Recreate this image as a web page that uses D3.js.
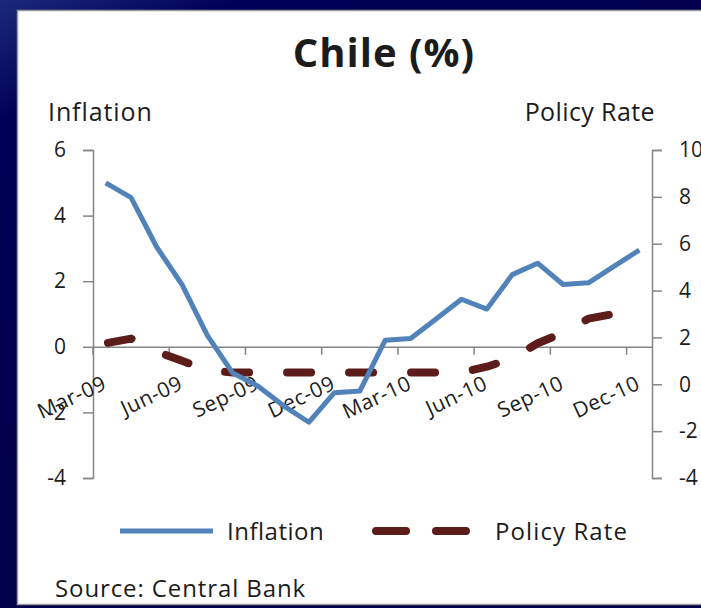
<!DOCTYPE html>
<html>
<head>
<meta charset="utf-8">
<script src="https://cdn.jsdelivr.net/npm/d3@7"></script>
<style>
  html, body { margin: 0; padding: 0; background: #000050; }
  svg { display: block; }
  text { font-family: "Open Sans", "Noto Sans", sans-serif; fill: #1c1c1c; }
</style>
</head>
<body>
<svg id="chart" width="701" height="608"></svg>
<script>
// Monthly observations, Mar-09 .. Dec-10
const months = ["Mar-09","Apr-09","May-09","Jun-09","Jul-09","Aug-09","Sep-09","Oct-09","Nov-09","Dec-09",
                "Jan-10","Feb-10","Mar-10","Apr-10","May-10","Jun-10","Jul-10","Aug-10","Sep-10","Oct-10","Nov-10","Dec-10"];
// Annual CPI inflation (%), left axis
const inflation = [5.0, 4.55, 3.05, 1.9, 0.35, -0.8, -1.2, -1.8, -2.3, -1.4, -1.35,
                   0.2, 0.25, 0.85, 1.45, 1.15, 2.2, 2.55, 1.9, 1.95, 2.45, 2.95];
// Monetary policy rate (%), right axis
const policyRate = [1.75, 1.95, 1.4, 1.0, 0.6, 0.5, 0.5, 0.5, 0.5, 0.5, 0.5,
                    0.5, 0.5, 0.5, 0.5, 0.75, 1.1, 1.75, 2.2, 2.8, 3.0, 3.25];
const leftTicks = [-4, -2, 0, 2, 4, 6];
const rightTicks = [-4, -2, 0, 2, 4, 6, 8, 10];
const labelledMonths = months.filter((d, i) => i % 3 === 0);

const svg = d3.select("#chart");

// Backdrop and chart panel
const defs = svg.append("defs");
const bg = defs.append("linearGradient").attr("id", "bg")
  .attr("x1", "0").attr("y1", "0").attr("x2", "0.35").attr("y2", "0.6");
bg.append("stop").attr("offset", "0").attr("stop-color", "#1a2a78");
bg.append("stop").attr("offset", "0.25").attr("stop-color", "#000056");
bg.append("stop").attr("offset", "1").attr("stop-color", "#00004a");
svg.append("rect").attr("width", 701).attr("height", 608).attr("fill", "url(#bg)");
svg.append("rect").attr("x", 17.5).attr("y", 10.5).attr("width", 700).attr("height", 594)
  .attr("fill", "#ffffff").attr("stroke", "#9a9a9a").attr("stroke-width", 1.5);

const plotLeft = 93, plotRight = 652, plotTop = 150, plotBottom = 478;

const x = d3.scaleBand().domain(months).range([plotLeft, plotRight]);
const cx = d => x(d) + x.bandwidth() / 2;
const yL = d3.scaleLinear().domain([-4, 6]).range([plotBottom, plotTop]);
const yR = d3.scaleLinear().domain([-4, 10]).range([plotBottom, plotTop]);
const plainNumber = d => String(d);   // hyphen-minus for negative ticks

// Title and axis titles
svg.append("text").attr("x", 384).attr("y", 67).attr("text-anchor", "middle")
  .style("font-size", "40px").style("font-weight", "700").style("letter-spacing", "1px")
  .text("Chile (%)");
svg.append("text").attr("x", 48).attr("y", 121).style("font-size", "25px")
  .style("letter-spacing", "0.9px").text("Inflation");
svg.append("text").attr("x", 655).attr("y", 121).attr("text-anchor", "end")
  .style("font-size", "25px").style("letter-spacing", "0.4px").text("Policy Rate");

const axisColor = "#858585";
function styleAxis(g) {
  g.select(".domain").attr("stroke", axisColor).attr("stroke-width", 1.5);
  g.selectAll(".tick line").attr("stroke", axisColor).attr("stroke-width", 1.5);
  g.selectAll(".tick text").style("font-size", "21px").style("font-family", "'Open Sans', sans-serif").attr("fill", "#1c1c1c");
}

// Left axis
svg.append("g").attr("transform", `translate(${plotLeft},0)`)
  .call(d3.axisLeft(yL).tickValues(leftTicks).tickFormat(plainNumber)
    .tickSize(10).tickPadding(17).tickSizeOuter(10))
  .call(styleAxis);

// Right axis
svg.append("g").attr("transform", `translate(${plotRight},0)`)
  .call(d3.axisRight(yR).tickValues(rightTicks).tickFormat(plainNumber)
    .tickSize(10).tickPadding(17).tickSizeOuter(10))
  .call(styleAxis);

// Category axis at inflation zero
const xAxis = svg.append("g").attr("transform", `translate(0,${yL(0)})`)
  .call(d3.axisBottom(x).tickValues(labelledMonths).tickSize(8).tickSizeOuter(0))
  .call(styleAxis);
xAxis.selectAll(".tick line").attr("transform", `translate(${-x.bandwidth() / 2},0)`);
xAxis.selectAll(".tick text")
  .attr("x", 0).attr("y", 0).attr("dy", "0.35em")
  .attr("text-anchor", "end")
  .style("letter-spacing", "0.5px")
  .attr("transform", "translate(-1,35) rotate(-25)");

// Series lines
const inflationLine = d3.line().x((d, i) => cx(months[i])).y(d => yL(d));
const policyLine = d3.line().x((d, i) => cx(months[i])).y(d => yR(d));

svg.append("path").datum(policyRate)
  .attr("d", policyLine).attr("fill", "none")
  .attr("stroke", "#5c1c1a").attr("stroke-width", 8)
  .attr("stroke-linecap", "round").attr("stroke-linejoin", "round")
  .attr("stroke-dasharray", "24 38").attr("stroke-dashoffset", -2.3);

svg.append("path").datum(inflation)
  .attr("d", inflationLine).attr("fill", "none")
  .attr("stroke", "#5182b9").attr("stroke-width", 5)
  .attr("stroke-linejoin", "round");

// Legend
const legend = svg.append("g");
legend.append("line").attr("x1", 120).attr("x2", 213).attr("y1", 531).attr("y2", 531)
  .attr("stroke", "#5182b9").attr("stroke-width", 5);
legend.append("text").attr("x", 227).attr("y", 540).style("font-size", "24px")
  .style("letter-spacing", "0.5px").text("Inflation");
legend.append("line").attr("x1", 376).attr("x2", 468).attr("y1", 531).attr("y2", 531)
  .attr("stroke", "#5c1c1a").attr("stroke-width", 8).attr("stroke-linecap", "round")
  .attr("stroke-dasharray", "30 30");
legend.append("text").attr("x", 495).attr("y", 540).style("font-size", "24px")
  .style("letter-spacing", "1.1px").text("Policy Rate");

// Source note
svg.append("text").attr("x", 55).attr("y", 597).style("font-size", "24px")
  .style("letter-spacing", "0.9px").text("Source: Central Bank");
</script>
</body>
</html>
